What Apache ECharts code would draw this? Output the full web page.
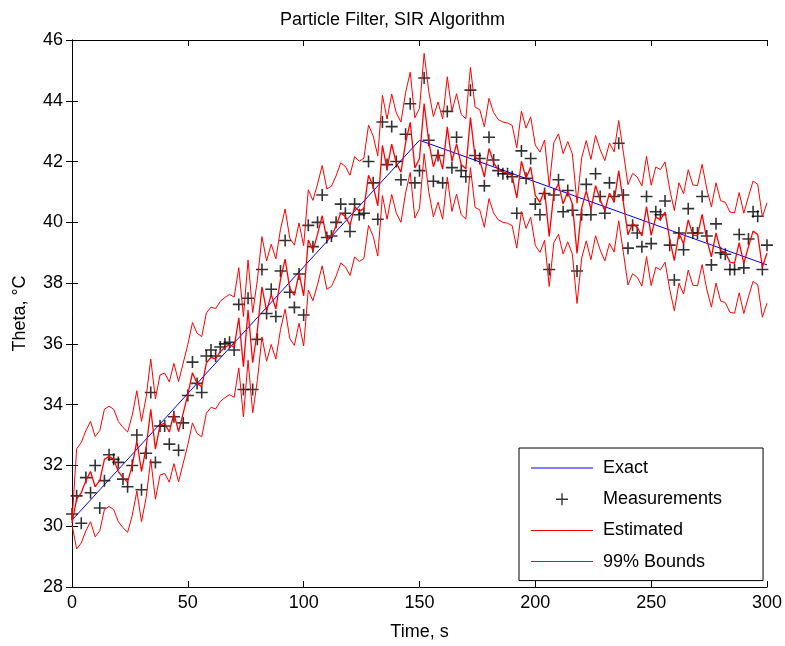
<!DOCTYPE html>
<html>
<head>
<meta charset="utf-8">
<script src="https://cdn.jsdelivr.net/npm/echarts@6/dist/echarts.min.js"></script>
<style>
html,body{margin:0;padding:0;background:#fff;}
#chart{width:785px;height:646px;}
</style>
</head>
<body>
<div id="chart"></div>
<script>
var timeS = [0,2,4,6,8,10,12,14,16,18,20,22,24,26,28,30,32,34,36,38,40,42,44,46,48,50,52,54,56,58,60,62,64,66,68,70,72,74,76,78,80,82,84,86,88,90,92,94,96,98,100,102,104,106,108,110,112,114,116,118,120,122,124,126,128,130,132,134,136,138,140,142,144,146,148,150,152,154,156,158,160,162,164,166,168,170,172,174,176,178,180,182,184,186,188,190,192,194,196,198,200,202,204,206,208,210,212,214,216,218,220,222,224,226,228,230,232,234,236,238,240,242,244,246,248,250,252,254,256,258,260,262,264,266,268,270,272,274,276,278,280,282,284,286,288,290,292,294,296,298,300];

var exactT = [0,150,300];
var exactV = [30.2,42.7,38.6];

var measured = [30.4,31.0,30.1,31.6,31.1,32.0,30.6,31.5,32.35,32.2,32.1,31.55,31.3,32.0,33.0,31.2,32.4,34.4,32.1,33.3,33.3,32.7,33.6,32.5,33.4,34.3,35.4,34.7,34.4,35.6,35.8,35.6,35.9,36.0,36.05,35.8,37.3,34.5,37.5,34.5,36.15,38.45,37.0,37.8,36.9,38.4,39.4,37.7,37.2,38.3,36.95,39.9,39.2,40.0,40.9,39.5,39.55,40.0,40.6,40.3,39.7,40.6,40.25,40.3,42.0,41.3,40.1,43.3,41.9,43.15,42.0,41.4,42.9,43.9,41.3,41.7,44.75,42.7,41.35,42.2,41.3,43.65,41.8,42.8,41.7,41.5,44.35,42.2,42.1,41.2,42.8,42.05,41.7,41.6,41.6,41.5,40.3,42.35,41.45,42.1,40.6,40.25,40.95,38.45,40.9,41.4,40.35,41.05,40.4,38.4,40.25,41.25,40.25,41.6,40.85,40.3,41.3,40.85,42.6,40.9,39.15,39.9,39.65,39.2,40.85,39.3,40.35,40.25,40.7,39.25,38.1,39.65,39.1,40.45,39.65,39.65,40.85,39.55,38.6,39.95,39.0,38.95,38.45,38.45,39.6,38.5,39.45,40.35,40.2,38.45,39.25];

var estimated = [30.10,30.90,31.10,31.50,31.80,31.30,31.50,32.20,32.30,32.20,31.80,31.60,31.45,32.00,32.81,31.80,32.59,33.85,32.54,33.33,33.39,33.10,33.71,33.11,33.72,34.33,35.05,34.70,34.59,35.37,35.56,35.51,35.75,35.88,35.98,35.89,36.86,35.25,37.11,35.38,36.44,37.88,37.08,37.63,37.15,38.12,38.79,37.83,37.60,38.33,37.58,39.42,39.07,39.61,40.22,39.45,39.54,39.88,40.31,40.19,39.90,40.51,40.36,40.46,41.55,41.19,40.54,42.53,41.75,42.57,41.95,41.65,42.62,43.29,41.79,42.10,43.91,42.66,41.83,42.31,41.75,43.14,42.01,42.58,41.90,41.76,43.45,42.14,42.06,41.49,42.43,41.96,41.73,41.65,41.62,41.54,40.80,42.01,41.45,41.82,40.89,40.66,41.06,39.54,40.98,41.26,40.61,41.01,40.60,38.98,40.47,41.04,40.42,41.21,40.74,40.38,40.96,40.67,41.70,40.66,39.59,39.96,39.84,39.55,40.52,39.57,40.17,40.09,40.34,39.45,38.74,39.65,39.29,40.08,39.58,39.56,40.26,39.45,38.86,39.65,39.06,39.01,38.69,38.66,39.33,38.65,39.20,39.71,39.60,38.53,38.99];

var upperBound = [30.15,32.55,32.75,33.15,33.45,32.95,33.15,33.85,33.95,33.85,33.45,33.25,33.10,33.65,34.46,33.45,34.24,35.50,34.19,34.98,35.04,34.75,35.36,34.76,35.37,35.98,36.70,36.35,36.24,37.02,37.21,37.16,37.40,37.53,37.63,37.54,38.51,36.90,38.76,37.03,38.09,39.53,38.73,39.28,38.80,39.77,40.44,39.48,39.25,39.98,39.23,41.07,40.72,41.26,41.87,41.10,41.19,41.53,41.96,41.84,41.55,42.16,42.01,42.11,43.20,42.84,42.19,44.18,43.40,44.22,43.60,43.30,44.27,44.94,43.44,43.75,45.56,44.31,43.48,43.96,43.40,44.79,43.66,44.23,43.55,43.41,45.10,43.79,43.71,43.14,44.08,43.61,43.38,43.30,43.27,43.19,42.45,43.66,43.10,43.47,42.54,42.31,42.71,41.19,42.63,42.91,42.26,42.66,42.25,40.63,42.12,42.69,42.07,42.86,42.39,42.03,42.61,42.32,43.35,42.31,41.24,41.61,41.49,41.20,42.17,41.22,41.82,41.74,41.99,41.10,40.39,41.30,40.94,41.73,41.23,41.21,41.91,41.10,40.51,41.30,40.71,40.66,40.34,40.31,40.98,40.30,40.85,41.36,41.25,40.18,40.64];

var lowerBound = [30.05,29.25,29.45,29.85,30.15,29.65,29.85,30.55,30.65,30.55,30.15,29.95,29.80,30.35,31.16,30.15,30.94,32.20,30.89,31.68,31.74,31.45,32.06,31.46,32.07,32.68,33.40,33.05,32.94,33.72,33.91,33.86,34.10,34.23,34.33,34.24,35.21,33.60,35.46,33.73,34.79,36.23,35.43,35.98,35.50,36.47,37.14,36.18,35.95,36.68,35.93,37.77,37.42,37.96,38.57,37.80,37.89,38.23,38.66,38.54,38.25,38.86,38.71,38.81,39.90,39.54,38.89,40.88,40.10,40.92,40.30,40.00,40.97,41.64,40.14,40.45,42.26,41.01,40.18,40.66,40.10,41.49,40.36,40.93,40.25,40.11,41.80,40.49,40.41,39.84,40.78,40.31,40.08,40.00,39.97,39.89,39.15,40.36,39.80,40.17,39.24,39.01,39.41,37.89,39.33,39.61,38.96,39.36,38.95,37.33,38.82,39.39,38.77,39.56,39.09,38.73,39.31,39.02,40.05,39.01,37.94,38.31,38.19,37.90,38.87,37.92,38.52,38.44,38.69,37.80,37.09,38.00,37.64,38.43,37.93,37.91,38.61,37.80,37.21,38.00,37.41,37.36,37.04,37.01,37.68,37.00,37.55,38.06,37.95,36.88,37.34];

function pairs(xs, ys){ var out=[]; for(var i=0;i<xs.length;i++){ out.push([xs[i], ys[i]]); } return out; }

var FONT = 'Liberation Sans, Arial, Helvetica, sans-serif';
var FS = 18;
var plusSym = 'path://M5.2,0h1.6v12h-1.6z M0,5.2h12v1.6h-12z';
var lineIcon = 'path://M0,6.5h62v1h-62z M0,0h0.01v0.01z M61.99,13.99h0.01v0.01z';
var plusIcon = 'path://M30.3,1h1.4v12h-1.4z M25,6.3h12v1.4h-12z M0,0h0.01v0.01z M61.99,13.99h0.01v0.01z';

var chart = echarts.init(document.getElementById('chart'), null, {renderer:'canvas'});
chart.setOption({
  animation: false,
  backgroundColor: '#fff',
  title: {
    text: 'Particle Filter, SIR Algorithm',
    left: 'center', top: 6,
    textStyle: {fontFamily: FONT, fontSize: FS, fontWeight: 'normal', color: '#000'}
  },
  grid: {left: 72, right: 18, top: 40, bottom: 58, show: false},
  legend: {
    orient: 'vertical',
    left: 519, top: 448,
    padding: [11, 41, 10, 12],
    itemWidth: 62, itemHeight: 14, itemGap: 13.2,
    backgroundColor: '#fff',
    borderColor: '#000', borderWidth: 1, borderRadius: 0,
    textStyle: {fontFamily: FONT, fontSize: FS, color: '#000', padding: [0,0,0,5]},
    data: [
      {name: 'Exact', icon: lineIcon, itemStyle: {color: '#0000ff'}},
      {name: 'Measurements', icon: plusIcon, itemStyle: {color: '#000000'}},
      {name: 'Estimated', icon: lineIcon, itemStyle: {color: '#ff0000'}},
      {name: '99% Bounds', icon: lineIcon, itemStyle: {color: '#ff0000'}}
    ]
  },
  xAxis: [
    {
      type: 'value', min: 0, max: 300, interval: 50, position: 'bottom',
      name: 'Time, s', nameLocation: 'middle', nameGap: 36,
      nameTextStyle: {fontFamily: FONT, fontSize: FS, color: '#000'},
      axisLine: {lineStyle: {color: '#000', width: 1}},
      axisTick: {inside: true, length: 6, lineStyle: {color: '#000'}},
      axisLabel: {fontFamily: FONT, fontSize: FS, color: '#000', margin: 7},
      splitLine: {show: false}
    },
    {
      type: 'value', min: 0, max: 300, interval: 50, position: 'top',
      axisLine: {lineStyle: {color: '#000', width: 1}},
      axisTick: {inside: true, length: 6, lineStyle: {color: '#000'}},
      axisLabel: {show: false},
      splitLine: {show: false}
    }
  ],
  yAxis: [
    {
      type: 'value', min: 28, max: 46, interval: 2, position: 'left',
      name: 'Theta, \u00B0C', nameLocation: 'middle', nameGap: 43, nameRotate: 90,
      nameTextStyle: {fontFamily: FONT, fontSize: FS, color: '#000'},
      axisLine: {show: true, lineStyle: {color: '#000', width: 1}},
      axisTick: {show: true, inside: true, length: 6, lineStyle: {color: '#000'}},
      axisLabel: {fontFamily: FONT, fontSize: FS, color: '#000', margin: 9},
      splitLine: {show: false}
    },
    {
      type: 'value', min: 28, max: 46, interval: 2, position: 'right',
      axisLine: {show: true, lineStyle: {color: '#000', width: 1}},
      axisTick: {show: true, inside: true, length: 6, lineStyle: {color: '#000'}},
      axisLabel: {show: false},
      splitLine: {show: false}
    }
  ],
  series: [
    {
      name: 'Exact', type: 'line', data: pairs(exactT, exactV),
      symbol: 'none', lineStyle: {color: '#0000ff', width: 1}, itemStyle: {color: '#0000ff'}, z: 3
    },
    {
      name: 'Measurements', type: 'scatter', data: pairs(timeS, measured),
      symbol: plusSym, symbolSize: 12, itemStyle: {color: '#000'}, z: 4
    },
    {
      name: 'Estimated', type: 'line', data: pairs(timeS, estimated),
      symbol: 'none', lineStyle: {color: '#ff0000', width: 1.3}, itemStyle: {color: '#ff0000'}, z: 5
    },
    {
      name: '99% Bounds', type: 'line', data: pairs(timeS, upperBound),
      symbol: 'none', lineStyle: {color: '#ff0000', width: 1}, itemStyle: {color: '#ff0000'}, z: 5
    },
    {
      name: '99% Bounds', type: 'line', data: pairs(timeS, lowerBound),
      symbol: 'none', lineStyle: {color: '#ff0000', width: 1}, itemStyle: {color: '#ff0000'}, z: 5
    }
  ]
});
</script>
</body>
</html>
